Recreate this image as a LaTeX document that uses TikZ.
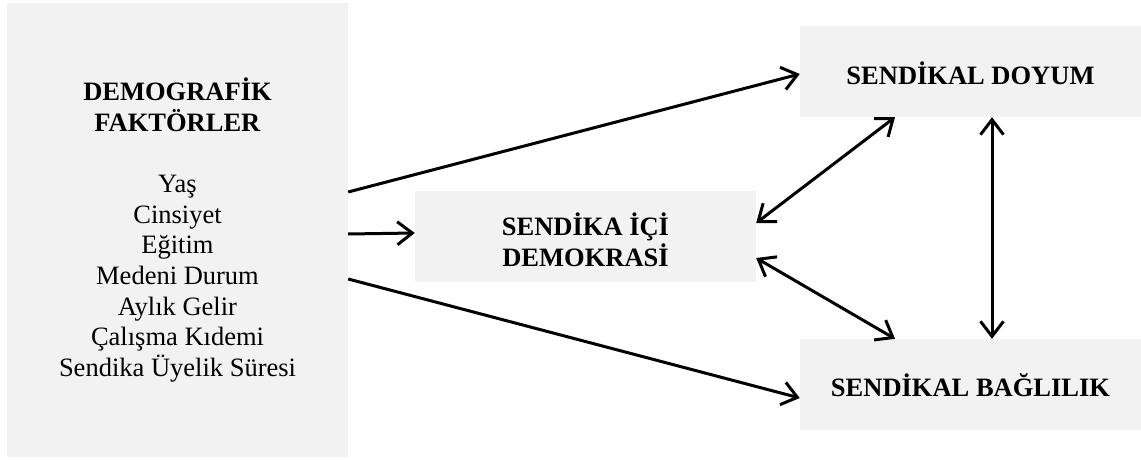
\documentclass[tikz,border=0pt]{standalone}
\usepackage{fontspec}
\setmainfont{Liberation Serif}
\usetikzlibrary{arrows.meta}
\definecolor{boxgray}{HTML}{F2F2F2}
\tikzset{
  box/.style={fill=boxgray, draw=none, inner sep=0pt, align=center,
    font=\fontsize{26.5}{30.7}\selectfont},
  txt/.style={inner sep=0pt, align=center, font=\fontsize{26.5}{30.5}\selectfont},
  tip/.style={Straight Barb[length=15pt,width=23pt]},
  arr/.style={line width=3pt, -{Straight Barb[length=15pt,width=23pt]}},
  darr/.style={line width=3pt, {Straight Barb[length=15pt,width=23pt]}-{Straight Barb[length=15pt,width=23pt]}}
}
\begin{document}
\begin{tikzpicture}[x=1pt,y=-1pt]
\useasboundingbox (0,0) rectangle (1141,460);
\node[box, minimum width=341pt, minimum height=454pt] (L) at (177.5,230)
  {\textbf{DEMOGRAFİK}\\\textbf{FAKTÖRLER}\\[30.7pt]Yaş\\Cinsiyet\\Eğitim\\Medeni Durum\\Aylık Gelir\\Çalışma Kıdemi\\Sendika Üyelik Süresi};
\node[box, minimum width=341pt, minimum height=91pt] (M) at (585.5,236.5) {};
\node[txt] (Mt) at (585.5,240) {\textbf{SENDİKA İÇİ}\\\textbf{DEMOKRASİ}};
\node[box, minimum width=341pt, minimum height=91pt] (D) at (970.5,71.5) {};
\node[txt] (Dt) at (970.5,73.5) {\textbf{SENDİKAL DOYUM}};
\node[box, minimum width=341pt, minimum height=91pt] (B) at (970.5,384.5) {};
\node[txt] (Bt) at (970.5,385.5) {\textbf{SENDİKAL BAĞLILIK}};
\draw[arr] ([yshift=38pt]L.east) -- ([yshift=-2.5pt]D.west);
\draw[arr] ([yshift=-4pt]L.east) -- ([yshift=3.5pt]M.west);
\draw[arr] ([yshift=-49pt]L.east) -- ([yshift=-13.5pt]B.west);
\draw[darr] ([xshift=-75.5pt]D.south) -- ([yshift=13.5pt]M.east);
\draw[darr] ([yshift=-21.5pt]M.east) -- ([xshift=-75.5pt]B.north);
\draw[darr] ([xshift=21.5pt]D.south) -- ([xshift=21.5pt]B.north);
\end{tikzpicture}
\end{document}
